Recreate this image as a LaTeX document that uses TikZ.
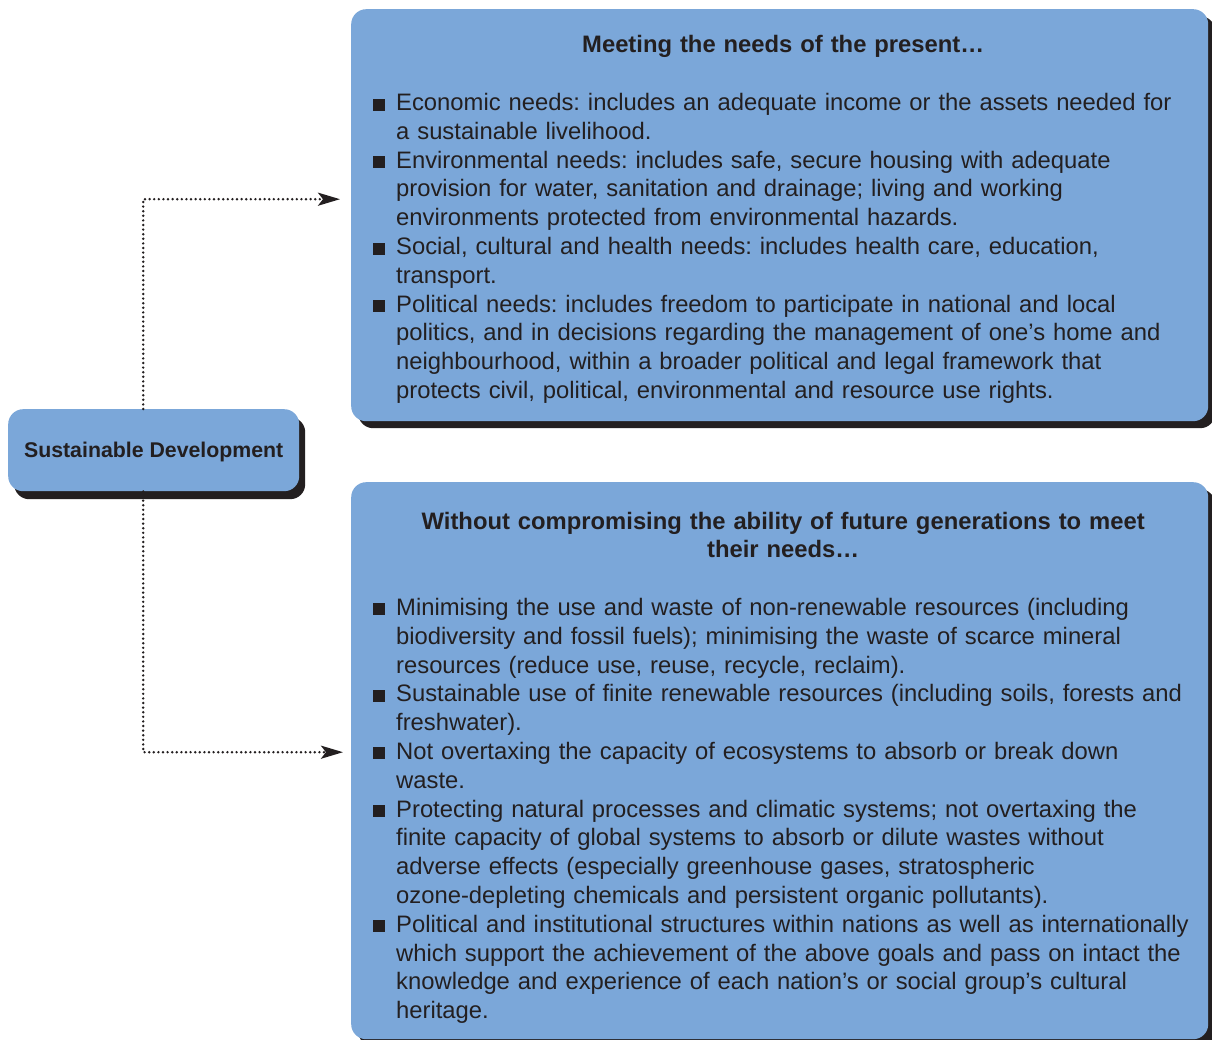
\documentclass[tikz,border=0pt]{standalone}
\usepackage{fontspec}
\setmainfont{Liberation Sans}
\usetikzlibrary{arrows.meta,shadows,calc}
\definecolor{boxblue}{RGB}{123,167,217}
\definecolor{ink}{RGB}{35,31,32}
% line break that keeps the paragraph (and its hanging indent) going
\newcommand{\nl}{\hfil\break}
% bullet item with hanging indent
\newcommand{\bitem}{\par\noindent\hangindent=23pt\hangafter=1\makebox[23pt][l]{\rule{12pt}{12pt}}}
\tikzset{
  panel/.style={fill=boxblue, rounded corners=15pt, inner sep=0pt,
    drop shadow={shadow xshift=7pt, shadow yshift=-7pt, fill=ink, opacity=1}},
  smallpanel/.style={fill=boxblue, rounded corners=15pt, inner sep=0pt,
    drop shadow={shadow xshift=6pt, shadow yshift=-8pt, fill=ink, opacity=1}},
  bodytext/.style={anchor=base west, inner sep=0pt, text width=820pt, text=ink,
    font=\fontsize{23.8}{28.8}\selectfont\frenchspacing},
  conn/.style={draw=ink, line width=2.7pt, line cap=round, dash pattern=on 0pt off 4.6pt,
    -{Stealth[length=22pt, width=13pt, inset=5pt]}}
}
\begin{document}
\begin{tikzpicture}[x=1pt, y=-1pt]
\useasboundingbox (0,0) rectangle (1212,1040);

% panels
\node[panel, anchor=north west, minimum width=857pt, minimum height=412pt] (present) at (351,9) {};
\node[panel, anchor=north west, minimum width=857pt, minimum height=557pt] (future) at (351,482) {};
\node[smallpanel, anchor=north west, minimum width=291pt, minimum height=82pt,
  text=ink, text height=17pt, text depth=3pt,
  font=\fontsize{21.3}{24}\selectfont\bfseries] (sd) at (8,409) {Sustainable Development};

% panel texts
\node[bodytext] (presenttxt) at (373,53) {%
  {\centering\bfseries Meeting the needs of the present…\par}
  \vspace{28.8pt}
  \bitem Economic needs: includes an adequate income or the assets needed for\nl a sustainable livelihood.
  \bitem Environmental needs: includes safe, secure housing with adequate\nl provision for water, sanitation and drainage; living and working\nl environments protected from environmental hazards.
  \bitem Social, cultural and health needs: includes health care, education,\nl transport.
  \bitem Political needs: includes freedom to participate in national and local\nl politics, and in decisions regarding the management of one’s home and\nl neighbourhood, within a broader political and legal framework that\nl protects civil, political, environmental and resource use rights.\par};

\node[bodytext] (futuretxt) at (373,529) {%
  {\centering\bfseries Without compromising the ability of future generations to meet\\ their needs…\par}
  \vspace{28.8pt}
  \bitem Minimising the use and waste of non-renewable resources (including\nl biodiversity and fossil fuels); minimising the waste of scarce mineral\nl resources (reduce use, reuse, recycle, reclaim).
  \bitem Sustainable use of finite renewable resources (including soils, forests and\nl freshwater).
  \bitem Not overtaxing the capacity of ecosystems to absorb or break down\nl waste.
  \bitem Protecting natural processes and climatic systems; not overtaxing the\nl finite capacity of global systems to absorb or dilute wastes without\nl adverse effects (especially greenhouse gases, stratospheric\nl ozone-depleting chemicals and persistent organic pollutants).
  \bitem Political and institutional structures within nations as well as internationally\nl which support the achievement of the above goals and pass on intact the\nl knowledge and experience of each nation’s or social group’s cultural\nl heritage.\par};

% connectors
\draw[conn, shorten >=11pt] ([xshift=-10.5pt]sd.north) |- ($(present.west)+(0,-16)$);
\draw[conn, shorten >=8pt] ([xshift=-10.5pt]sd.south) |- ($(future.west)+(0,-8.5)$);
\end{tikzpicture}
\end{document}
